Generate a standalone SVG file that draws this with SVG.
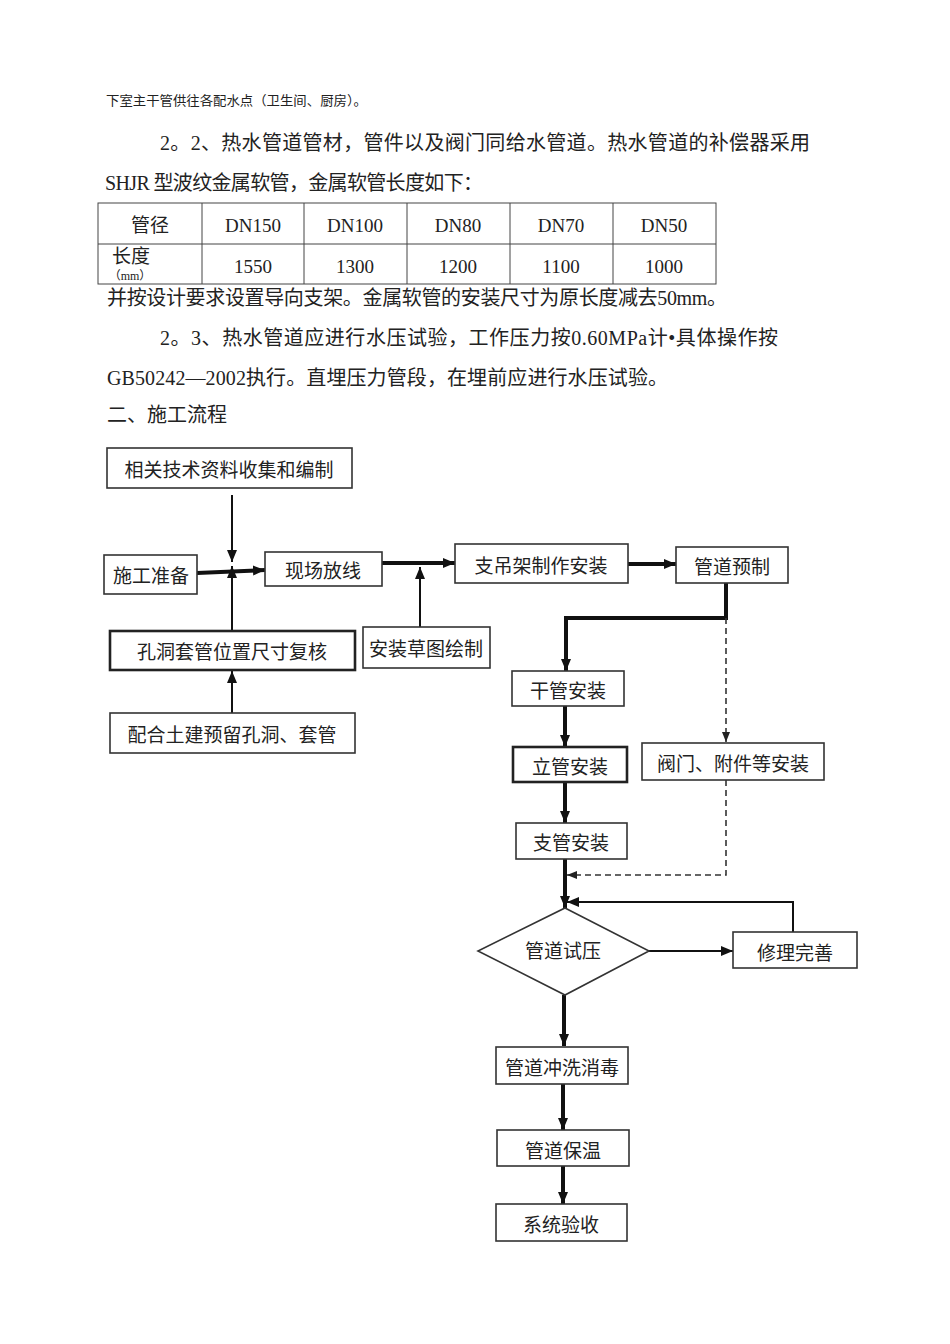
<svg xmlns="http://www.w3.org/2000/svg" width="950" height="1344" viewBox="0 0 950 1344">
<style>
.p{font-family:"Liberation Serif","Noto Sans CJK SC",serif;font-size:20px;fill:#222}
.s{font-family:"Liberation Serif","Noto Sans CJK SC",serif;font-size:13px;fill:#222}
.t{font-family:"Liberation Serif","Noto Sans CJK SC",serif;font-size:19px;fill:#222;text-anchor:middle;dominant-baseline:central}
.grid{stroke:#444;stroke-width:1;fill:none}
.box{fill:#fff;stroke:#333;stroke-width:1.6}
.bx{fill:#fff;stroke:#222;stroke-width:2.6}
.lb{font-family:"Noto Sans CJK SC","Liberation Sans",sans-serif;font-size:19px;fill:#222;text-anchor:middle;dominant-baseline:central}
.thick{stroke:#111;stroke-width:4;fill:none}
.thin{stroke:#111;stroke-width:2;fill:none}
.dash{stroke:#333;stroke-width:1.6;fill:none;stroke-dasharray:6,4}
</style>
<defs>
<marker id="ah" viewBox="0 0 12 10" refX="12" refY="5" markerWidth="12" markerHeight="10" orient="auto" markerUnits="userSpaceOnUse"><path d="M0,0 L12,5 L0,10 z" fill="#111"/></marker>
<marker id="ahs" viewBox="0 0 10 8" refX="10" refY="4" markerWidth="10" markerHeight="8" orient="auto" markerUnits="userSpaceOnUse"><path d="M0,0 L10,4 L0,8 z" fill="#222"/></marker>
</defs>
<rect width="950" height="1344" fill="#fff"/>

<g id="text">
<text class="s" x="106" y="105" textLength="261" lengthAdjust="spacingAndGlyphs">下室主干管供往各配水点（卫生间、厨房）。</text>
<text class="p" x="160" y="150" textLength="650" lengthAdjust="spacing">2。2、热水管道管材，管件以及阀门同给水管道。热水管道的补偿器采用</text>
<text class="p" x="105" y="190" textLength="378" lengthAdjust="spacing">SHJR 型波纹金属软管，金属软管长度如下：</text>
<text class="p" x="107" y="305" textLength="620" lengthAdjust="spacing">并按设计要求设置导向支架。金属软管的安装尺寸为原长度减去50mm。</text>
<text class="p" x="160" y="345" textLength="618" lengthAdjust="spacing">2。3、热水管道应进行水压试验，工作压力按0.60MPa计•具体操作按</text>
<text class="p" x="107" y="385" textLength="561" lengthAdjust="spacing">GB50242—2002执行。直埋压力管段，在埋前应进行水压试验。</text>
<text class="p" x="107" y="422">二、施工流程</text>
</g>

<g id="table">
<rect class="grid" x="98" y="203" width="618" height="81"/>
<line class="grid" x1="98" y1="244" x2="716" y2="244"/>
<line class="grid" x1="202" y1="203" x2="202" y2="284"/>
<line class="grid" x1="304" y1="203" x2="304" y2="284"/>
<line class="grid" x1="407" y1="203" x2="407" y2="284"/>
<line class="grid" x1="510" y1="203" x2="510" y2="284"/>
<line class="grid" x1="613" y1="203" x2="613" y2="284"/>
<text class="t" x="150" y="225">管径</text>
<text class="t" x="253" y="225">DN150</text>
<text class="t" x="355" y="225">DN100</text>
<text class="t" x="458" y="225">DN80</text>
<text class="t" x="561" y="225">DN70</text>
<text class="t" x="664" y="225">DN50</text>
<text class="t" x="131" y="256">长度</text>
<text class="t" x="130" y="276" style="font-size:12px">（mm）</text>
<text class="t" x="253" y="266">1550</text>
<text class="t" x="355" y="266">1300</text>
<text class="t" x="458" y="266">1200</text>
<text class="t" x="561" y="266">1100</text>
<text class="t" x="664" y="266">1000</text>
</g>

<g id="connectors">
<line class="thin" x1="232" y1="495" x2="232" y2="562" marker-end="url(#ah)"/>
<line class="thick" x1="197" y1="573" x2="265" y2="570" marker-end="url(#ah)"/>
<line class="thin" x1="232" y1="631" x2="232" y2="566" marker-end="url(#ah)"/>
<line class="thin" x1="232" y1="713" x2="232" y2="671" marker-end="url(#ah)"/>
<line class="thick" x1="382" y1="563" x2="455" y2="563" marker-end="url(#ah)"/>
<line class="thin" x1="420" y1="627" x2="420" y2="567" marker-end="url(#ah)"/>
<line class="thick" x1="628" y1="564" x2="676" y2="564" marker-end="url(#ah)"/>
<path class="thick" d="M726,583 V618 H566 V671" marker-end="url(#ah)"/>
<path class="dash" d="M726,618 V742" marker-end="url(#ahs)"/>
<line class="thick" x1="565" y1="706" x2="565" y2="747" marker-end="url(#ah)"/>
<line class="thick" x1="565" y1="782" x2="565" y2="823" marker-end="url(#ah)"/>
<line class="thick" x1="565" y1="859" x2="565" y2="908" marker-end="url(#ah)"/>
<path class="dash" d="M726,780 V875 H567" marker-end="url(#ahs)"/>
<path class="thin" d="M793,932 V902 H567" marker-end="url(#ah)"/>
<line class="thin" x1="649" y1="951" x2="733" y2="951" marker-end="url(#ah)"/>
<line class="thick" x1="564" y1="995" x2="564" y2="1046" marker-end="url(#ah)"/>
<line class="thick" x1="563" y1="1084" x2="563" y2="1130" marker-end="url(#ah)"/>
<line class="thick" x1="563" y1="1166" x2="563" y2="1204" marker-end="url(#ah)"/>
</g>

<g id="n1"><rect class="box" x="107" y="448" width="245" height="40"/><text class="lb" x="229" y="468">相关技术资料收集和编制</text></g>
<g id="n2"><rect class="box" x="104" y="555" width="93" height="39"/><text class="lb" x="151" y="574">施工准备</text></g>
<g id="n3"><rect class="box" x="265" y="552" width="117" height="34"/><text class="lb" x="323" y="569">现场放线</text></g>
<g id="n4"><rect class="bx" x="110" y="631" width="245" height="39"/><text class="lb" x="232" y="650">孔洞套管位置尺寸复核</text></g>
<g id="n5"><rect class="box" x="363" y="627" width="127" height="41"/><text class="lb" x="426" y="647">安装草图绘制</text></g>
<g id="n6"><rect class="box" x="110" y="713" width="245" height="40"/><text class="lb" x="232" y="733">配合土建预留孔洞、套管</text></g>
<g id="n7"><rect class="box" x="455" y="544" width="173" height="39"/><text class="lb" x="541" y="564">支吊架制作安装</text></g>
<g id="n8"><rect class="box" x="676" y="547" width="112" height="36"/><text class="lb" x="732" y="565">管道预制</text></g>
<g id="n9"><rect class="box" x="512" y="671" width="112" height="35"/><text class="lb" x="568" y="689">干管安装</text></g>
<g id="n10"><rect class="bx" x="513" y="747" width="114" height="35"/><text class="lb" x="570" y="765">立管安装</text></g>
<g id="n11"><rect class="box" x="642" y="743" width="182" height="37"/><text class="lb" x="733" y="762">阀门、附件等安装</text></g>
<g id="n12"><rect class="box" x="516" y="823" width="111" height="36"/><text class="lb" x="571" y="841">支管安装</text></g>
<g id="n13"><polygon class="box" points="565,908 649,951 565,995 478,951"/><text class="lb" x="563" y="949">管道试压</text></g>
<g id="n14"><rect class="box" x="733" y="932" width="124" height="36"/><text class="lb" x="795" y="951">修理完善</text></g>
<g id="n15"><rect class="box" x="496" y="1047" width="132" height="37"/><text class="lb" x="562" y="1066">管道冲洗消毒</text></g>
<g id="n16"><rect class="box" x="497" y="1130" width="132" height="36"/><text class="lb" x="563" y="1149">管道保温</text></g>
<g id="n17"><rect class="box" x="496" y="1204" width="131" height="37"/><text class="lb" x="561" y="1223">系统验收</text></g>
</svg>
